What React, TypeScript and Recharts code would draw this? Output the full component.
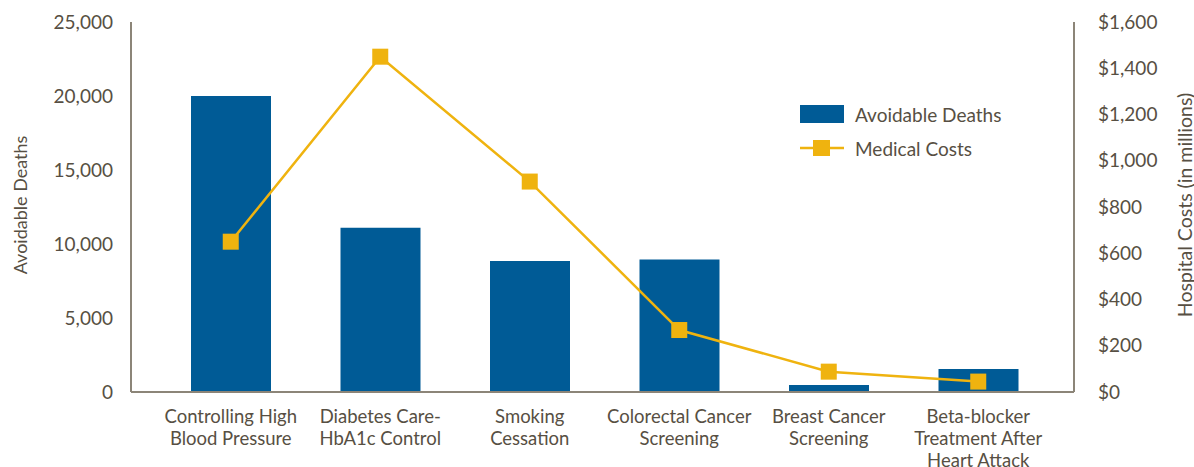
import {
  Bar,
  ComposedChart,
  Line,
  XAxis,
  YAxis,
} from 'recharts'

const categories = [
  'Controlling High\nBlood Pressure',
  'Diabetes Care-\nHbA1c Control',
  'Smoking\nCessation',
  'Colorectal Cancer\nScreening',
  'Breast Cancer\nScreening',
  'Beta-blocker\nTreatment After\nHeart Attack',
]
const avoidableDeaths = [20000, 11100, 8850, 8950, 480, 1550]
const medicalCosts = [650, 1450, 910, 268, 88, 45]

const deathTicks = [0, 5000, 10000, 15000, 20000, 25000]
const costTicks = [0, 200, 400, 600, 800, 1000, 1200, 1400, 1600]

const BLUE = '#005b96'
const GOLD = '#efb30f'
const AXIS = '#8c8578'
const TEXT = '#574f43'
const FONT = 'Lato, "Noto Sans", sans-serif'

const data = categories.map((name, i) => ({
  name,
  deaths: avoidableDeaths[i],
  costs: medicalCosts[i],
}))

function CategoryTick({ x, y, payload }: any) {
  const lines = String(payload.value).split('\n')
  return (
    <text x={x} y={y} textAnchor="middle" fill={TEXT} fontSize={18.5} fontFamily={FONT}>
      {lines.map((l, i) => (
        <tspan key={i} x={x} dy={i === 0 ? 23 : 22}>
          {l}
        </tspan>
      ))}
    </text>
  )
}

function SquareDot({ cx, cy }: any) {
  if (cx == null || cy == null) return null
  return <rect x={cx - 8} y={cy - 8} width={16} height={16} fill={GOLD} />
}

function AxisTitle({ text, cx, size }: { text: string; cx: number; size: number }) {
  return ({ viewBox }: any) => {
    const x = viewBox.x + cx
    const y = viewBox.y + viewBox.height / 2 - 2
    return (
      <text
        x={x}
        y={y}
        transform={`rotate(-90 ${x} ${y})`}
        textAnchor="middle"
        dominantBaseline="central"
        fill={TEXT}
        fontSize={size}
        fontFamily={FONT}
      >
        {text}
      </text>
    )
  }
}

function Legend() {
  return (
    <div style={{ position: 'absolute', left: 800, top: 100, fontFamily: FONT, fontSize: 19, color: TEXT }}>
      <div style={{ display: 'flex', alignItems: 'center', height: 28 }}>
        <span style={{ width: 44, height: 18, background: BLUE, display: 'inline-block' }} />
        <span style={{ marginLeft: 11 }}>Avoidable Deaths</span>
      </div>
      <div style={{ display: 'flex', alignItems: 'center', height: 28, marginTop: 6 }}>
        <svg width={44} height={18}>
          <line x1={0} y1={9} x2={44} y2={9} stroke={GOLD} strokeWidth={2.5} />
          <rect x={13} y={1} width={17} height={16} fill={GOLD} />
        </svg>
        <span style={{ marginLeft: 11 }}>Medical Costs</span>
      </div>
    </div>
  )
}

export default function App() {
  return (
    <div style={{ position: 'relative', width: 1194, height: 467, background: '#fff' }}>
      <style>{'body{margin:0}'}</style>
      <ComposedChart
        width={1194}
        height={467}
        data={data}
        margin={{ top: 22, right: 0, bottom: 0, left: 0 }}
      >
        <XAxis
          dataKey="name"
          tick={<CategoryTick />}
          tickLine={false}
          axisLine={{ stroke: AXIS, strokeWidth: 2 }}
          interval={0}
          height={75}
          padding={{ left: 25, right: 21 }}
        />
        <YAxis
          yAxisId="left"
          domain={[0, 25000]}
          ticks={deathTicks}
          width={131}
          tickLine={false}
          axisLine={{ stroke: AXIS, strokeWidth: 2 }}
          tickMargin={12}
          tick={{ fill: TEXT, fontSize: 19, fontFamily: FONT }}
          tickFormatter={(v) => Number(v).toLocaleString('en-US')}
          label={{ content: AxisTitle({ text: 'Avoidable Deaths', cx: 20, size: 18 }) }}
        />
        <YAxis
          yAxisId="right"
          orientation="right"
          domain={[0, 1600]}
          ticks={costTicks}
          width={120}
          tickLine={false}
          axisLine={{ stroke: AXIS, strokeWidth: 2 }}
          tickMargin={18}
          tick={{ fill: TEXT, fontSize: 19, fontFamily: FONT }}
          tickFormatter={(v) => '$' + Number(v).toLocaleString('en-US')}
          label={{ content: AxisTitle({ text: 'Hospital Costs (in millions)', cx: 110, size: 19.5 }) }}
        />
        <Bar
          yAxisId="left"
          dataKey="deaths"
          fill={BLUE}
          barSize={80}
          isAnimationActive={false}
        />
        <Line
          yAxisId="right"
          dataKey="costs"
          stroke={GOLD}
          strokeWidth={2.5}
          dot={<SquareDot />}
          activeDot={false}
          isAnimationActive={false}
        />
      </ComposedChart>
      <Legend />
    </div>
  )
}
